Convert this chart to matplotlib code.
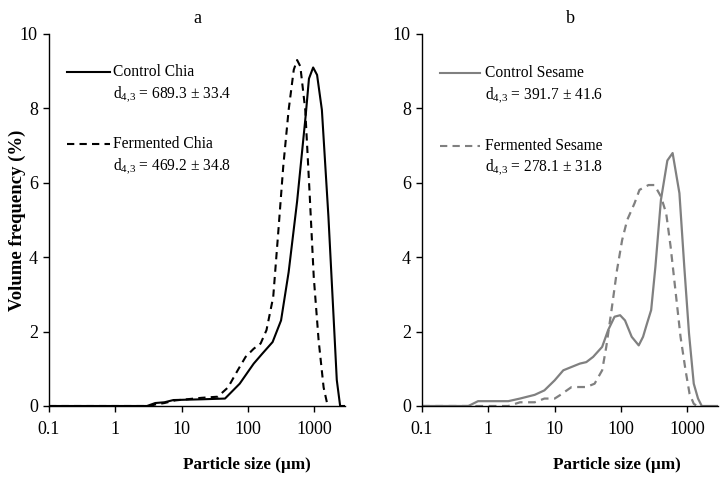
import matplotlib
matplotlib.use("Agg")
import matplotlib.pyplot as plt
from matplotlib.lines import Line2D
from matplotlib.ticker import FixedLocator, FixedFormatter

plt.rcParams['font.family'] = ['Liberation Serif', 'DejaVu Serif']
plt.rcParams['mathtext.fontset'] = 'custom'
plt.rcParams['mathtext.rm'] = 'Liberation Serif'

# ---- data ----
chia_ctrl_x = [0.1, 3.0, 4.0, 5.5, 7.5, 20, 45, 75, 100, 122, 163, 235, 315, 410, 550, 740, 830, 960, 1100, 1300, 1630, 1950, 2180, 2450, 2900]
chia_ctrl_y = [0, 0, 0.08, 0.1, 0.16, 0.18, 0.2, 0.6, 0.92, 1.14, 1.4, 1.72, 2.3, 3.6, 5.5, 7.8, 8.8, 9.1, 8.9, 7.96, 5.1, 2.4, 0.7, 0, 0]

chia_ferm_x = [0.1, 3.3, 4.0, 5.5, 8, 20, 35, 50, 70, 92, 122, 155, 190, 240, 285, 340, 410, 490, 550, 615, 730, 850, 980, 1160, 1380, 1590]
chia_ferm_y = [0, 0, 0.04, 0.08, 0.15, 0.22, 0.25, 0.5, 0.96, 1.32, 1.54, 1.68, 2.04, 2.93, 4.64, 6.44, 7.96, 9.04, 9.3, 9.13, 7.96, 5.7, 3.47, 1.77, 0.5, 0]

ses_ctrl_x = [0.1, 0.5, 0.7, 1.0, 2.0, 3.0, 5.0, 7.0, 10, 13.5, 18, 24, 30, 38, 52, 64, 80, 97, 115, 145, 185, 215, 245, 285, 330, 400, 500, 600, 760, 900, 1060, 1250, 1450, 1650, 2900]
ses_ctrl_y = [0, 0, 0.13, 0.13, 0.13, 0.2, 0.3, 0.42, 0.69, 0.96, 1.05, 1.14, 1.18, 1.32, 1.59, 2.04, 2.4, 2.44, 2.3, 1.86, 1.63, 1.86, 2.2, 2.58, 3.74, 5.54, 6.6, 6.8, 5.72, 3.74, 1.95, 0.6, 0.2, 0, 0]

ses_ferm_x = [0.1, 2.0, 3.0, 5.0, 7.0, 10, 12, 18, 23, 30, 40, 52, 60, 72, 87, 104, 124, 160, 190, 260, 320, 400, 480, 560, 670, 790, 940, 1080, 1250, 1400]
ses_ferm_y = [0, 0, 0.1, 0.1, 0.2, 0.2, 0.29, 0.51, 0.51, 0.51, 0.6, 0.96, 1.59, 2.58, 3.65, 4.46, 5.0, 5.45, 5.81, 5.94, 5.94, 5.63, 5.18, 4.28, 3.02, 1.86, 0.96, 0.33, 0.06, 0]

x_ticks = [0.1, 1, 10, 100, 1000]
x_ticklabels = ["0.1", "1", "10", "100", "1000"]
y_ticks = [0, 2, 4, 6, 8, 10]

legend_a = [("Control Chia", "689.3 \u00b1 33.4"), ("Fermented Chia", "469.2 \u00b1 34.8")]
legend_b = [("Control Sesame", "391.7 \u00b1 41.6"), ("Fermented Sesame", "278.1 \u00b1 31.8")]

GRAY = "#808080"

fig = plt.figure(figsize=(7.25, 4.8), dpi=100)
axA = fig.add_axes([49/725, 1-406/480, 296/725, 372/480])
axB = fig.add_axes([422/725, 1-406/480, 296/725, 372/480])

FS = 13

def style(ax):
    ax.set_xscale('log')
    ax.set_xlim(0.1, 2900)
    ax.set_ylim(0, 10)
    ax.xaxis.set_major_locator(FixedLocator(x_ticks))
    ax.xaxis.set_major_formatter(FixedFormatter(x_ticklabels))
    ax.xaxis.set_minor_locator(FixedLocator([]))
    ax.set_yticks(y_ticks)
    ax.spines['top'].set_visible(False)
    ax.spines['right'].set_visible(False)
    for s in ('left', 'bottom'):
        ax.spines[s].set_linewidth(1.0)
        ax.spines[s].set_color('black')
    ax.tick_params(axis='both', direction='out', length=4, width=1.0, labelsize=FS)
    ax.tick_params(axis='x', pad=7)
    ax.tick_params(axis='y', pad=4)

style(axA)
style(axB)

axA.plot(chia_ctrl_x, chia_ctrl_y, color='black', lw=1.5, ls='-')
axA.plot(chia_ferm_x, chia_ferm_y, color='black', lw=1.5, ls=(0, (3.5, 2.5)))
axB.plot(ses_ctrl_x, ses_ctrl_y, color=GRAY, lw=1.6, ls='-')
axB.plot(ses_ferm_x, ses_ferm_y, color=GRAY, lw=1.6, ls=(0, (3.5, 2.5)))

axA.set_title("a", fontsize=13, pad=8)
axB.set_title("b", fontsize=13, pad=8)

fig.text(17/725, 1-220/480, "Volume frequency (%)", rotation=90, fontsize=13.5,
         fontweight='bold', ha='center', va='center')
fig.text(247/725, 1-465/480, "Particle size (\u00b5m)", fontsize=12.3,
         fontweight='bold', ha='center', va='center')
fig.text(617/725, 1-465/480, "Particle size (\u00b5m)", fontsize=12.3,
         fontweight='bold', ha='center', va='center')

def legend(entries, color, x0, x1, xt, ys):
    styles = ['-', (0, (3.5, 2.5))]
    for (name, val), ls, (y1, y2) in zip(entries, styles, ys):
        fy1 = 1 - y1/480
        fy2 = 1 - y2/480
        fig.add_artist(Line2D([x0/725, x1/725], [fy1, fy1], color=color, lw=1.5, ls=ls,
                              transform=fig.transFigure))
        fig.text(xt/725, fy1, name, fontsize=11.2, ha='left', va='center')
        fig.text(xt/725, fy2, r"d$_{4{,}3}$ = " + val, fontsize=11.2, ha='left', va='center')

legend(legend_a, 'black', 67, 110, 113, [(72, 95), (144, 167)])
legend(legend_b, GRAY, 440, 480, 485, [(73, 96), (146, 168)])

fig.savefig("out.png", dpi=100)
